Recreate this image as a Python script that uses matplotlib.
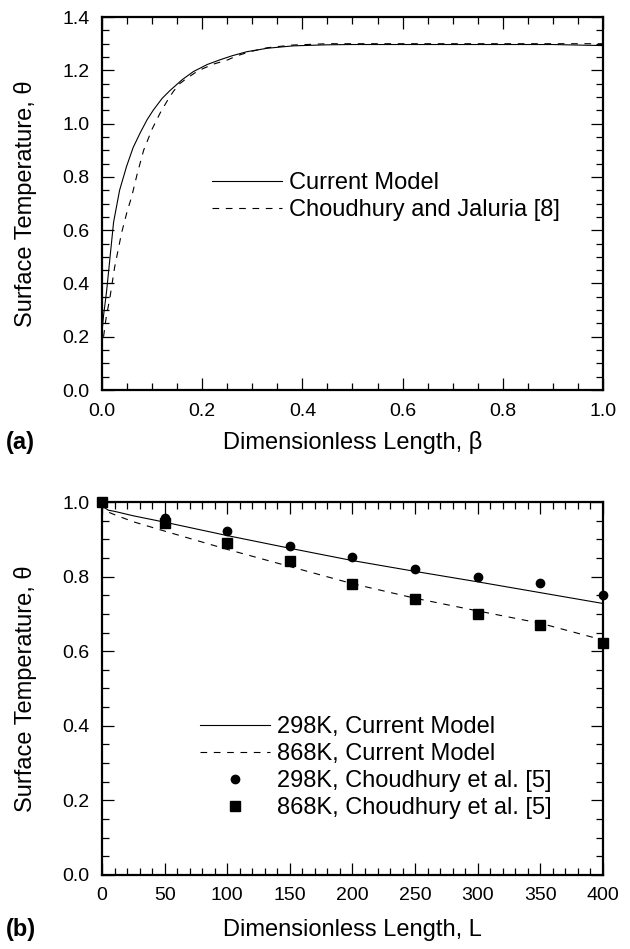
import numpy as np
import matplotlib
matplotlib.use("Agg")
import matplotlib.pyplot as plt
from matplotlib.ticker import MultipleLocator, FormatStrFormatter

plt.rcParams["font.family"] = ["Liberation Sans", "DejaVu Sans"]

# (a) surface temperature along the fibre, dimensionless length beta
beta_model = [0.0, 0.003, 0.009, 0.016, 0.023, 0.035, 0.049, 0.062, 0.076, 0.09,
              0.102, 0.12, 0.136, 0.16, 0.182, 0.21, 0.236, 0.26, 0.289, 0.33,
              0.382, 0.45, 0.5, 0.6, 0.7, 0.8, 0.9, 1.0]
theta_model = [0.22, 0.28, 0.37, 0.5, 0.63, 0.75, 0.84, 0.91, 0.965, 1.015,
               1.05, 1.095, 1.125, 1.165, 1.195, 1.222, 1.24, 1.255, 1.27, 1.283,
               1.292, 1.296, 1.297, 1.297, 1.297, 1.297, 1.297, 1.293]

beta_cj = [0.003, 0.008, 0.016, 0.025, 0.039, 0.05, 0.059, 0.07, 0.083, 0.1,
           0.116, 0.13, 0.142, 0.155, 0.169, 0.185, 0.202, 0.225, 0.249, 0.27,
           0.295, 0.33, 0.38, 0.45, 0.5, 0.6, 0.7, 0.8, 0.9, 1.0]
theta_cj = [0.2, 0.27, 0.35, 0.46, 0.59, 0.67, 0.725, 0.81, 0.9, 0.98,
            1.04, 1.085, 1.12, 1.15, 1.17, 1.19, 1.207, 1.225, 1.238, 1.255,
            1.27, 1.285, 1.295, 1.3, 1.3, 1.3, 1.3, 1.3, 1.3, 1.3]

# (b) dimensionless length L, two furnace temperatures
L_298 = [0, 2, 5, 10, 25, 50, 75, 100, 150, 200, 250, 300, 350, 400]
theta_298 = [1.0, 0.985, 0.978, 0.975, 0.963, 0.946, 0.928, 0.91, 0.876, 0.843,
             0.814, 0.786, 0.757, 0.728]
L_868 = [0, 2, 5, 10, 25, 50, 100, 150, 200, 250, 300, 350, 400]
theta_868 = [1.0, 0.98, 0.973, 0.966, 0.947, 0.922, 0.873, 0.827, 0.781, 0.742,
             0.708, 0.675, 0.63]

L_ref = [50, 100, 150, 200, 250, 300, 350, 400]
theta_ref_298 = [0.956, 0.922, 0.882, 0.852, 0.820, 0.800, 0.782, 0.751]
L_ref_sq = [0, 50, 100, 150, 200, 250, 300, 350, 400]
theta_ref_868 = [1.0, 0.945, 0.889, 0.842, 0.780, 0.740, 0.700, 0.670, 0.621]

DASH = (0, (6, 6))
TICK_FS = 14
LABEL_FS = 17


def style_axes(ax, xmaj, xmin, ymaj, ymin, xfmt, yfmt):
    for sp in ax.spines.values():
        sp.set_linewidth(1.6)
    ax.xaxis.set_major_locator(MultipleLocator(xmaj))
    ax.xaxis.set_minor_locator(MultipleLocator(xmin))
    ax.yaxis.set_major_locator(MultipleLocator(ymaj))
    ax.yaxis.set_minor_locator(MultipleLocator(ymin))
    ax.xaxis.set_major_formatter(FormatStrFormatter(xfmt))
    ax.yaxis.set_major_formatter(FormatStrFormatter(yfmt))
    ax.tick_params(which="both", direction="in", top=True, right=True, width=0.9)
    ax.tick_params(which="major", length=8.5, labelsize=TICK_FS)
    ax.tick_params(which="minor", length=4.8)
    ax.tick_params(axis="x", which="major", pad=9)
    ax.tick_params(axis="y", which="major", pad=9)


def add_legend(ax, x0, y0):
    ax.legend(loc="upper left", bbox_to_anchor=(x0, y0), frameon=False,
              fontsize=LABEL_FS, borderpad=0, borderaxespad=0, handlelength=2.95,
              handletextpad=0.3, labelspacing=0.21)


fig = plt.figure(figsize=(6.3, 9.49), dpi=100)
ax1 = fig.add_axes([0.162, 0.589, 0.795, 0.393])
ax2 = fig.add_axes([0.162, 0.078, 0.795, 0.393])

# panel (a)
ax1.plot(beta_model, theta_model, color="black", lw=0.8, label="Current Model")
ax1.plot(beta_cj, theta_cj, color="black", lw=0.8, ls=DASH,
         label="Choudhury and Jaluria [8]")
ax1.set_xlim(0, 1.0)
ax1.set_ylim(0, 1.4)
style_axes(ax1, 0.2, 0.05, 0.2, 0.05, "%.1f", "%.1f")
ax1.set_xlabel("Dimensionless Length, \u03b2", fontsize=LABEL_FS, va="center")
ax1.set_ylabel("Surface Temperature, \u03b8", fontsize=LABEL_FS, va="center")
ax1.xaxis.set_label_coords(0.5, -0.142)
ax1.yaxis.set_label_coords(-0.153, 0.5)
add_legend(ax1, 0.22, 0.584)

# panel (b)
ax2.plot(L_298, theta_298, color="black", lw=0.8, label="298K, Current Model")
ax2.plot(L_868, theta_868, color="black", lw=0.8, ls=DASH,
         label="868K, Current Model")
ax2.plot(L_ref, theta_ref_298, ls="none", marker="o", ms=6, color="black",
         label="298K, Choudhury et al. [5]", clip_on=False)
ax2.plot(L_ref_sq, theta_ref_868, ls="none", marker="s", ms=7, color="black",
         label="868K, Choudhury et al. [5]", clip_on=False)
ax2.set_xlim(0, 400)
ax2.set_ylim(0, 1.0)
style_axes(ax2, 50, 10, 0.2, 0.05, "%d", "%.1f")
ax2.set_xlabel("Dimensionless Length, L", fontsize=LABEL_FS, va="center")
ax2.set_ylabel("Surface Temperature, \u03b8", fontsize=LABEL_FS, va="center")
ax2.xaxis.set_label_coords(0.5, -0.148)
ax2.yaxis.set_label_coords(-0.153, 0.5)
add_legend(ax2, 0.196, 0.426)

fig.text(0.01, 0.534, "(a)", fontsize=LABEL_FS, fontweight="bold", va="center")
fig.text(0.01, 0.021, "(b)", fontsize=LABEL_FS, fontweight="bold", va="center")

fig.savefig("out.png", dpi=100)
